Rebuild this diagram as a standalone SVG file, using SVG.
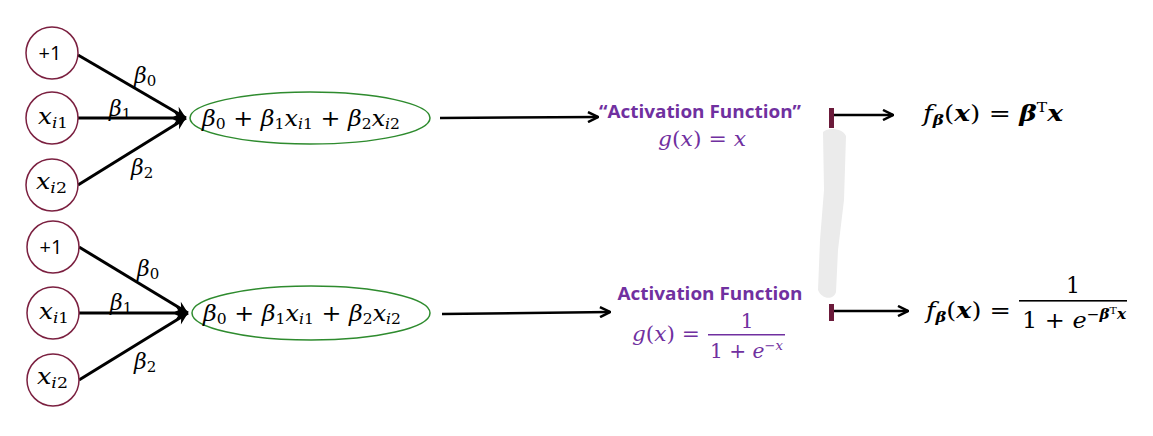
<svg xmlns="http://www.w3.org/2000/svg" width="1153" height="436" viewBox="0 0 1153 436">
<style>
.node{fill:#fff;stroke:#7b2040;stroke-width:1.5}
.ell{fill:none;stroke:#2e8b2e;stroke-width:1.5}
.edge{stroke:#000;stroke-width:3;fill:none}
.arr{stroke:#000;stroke-width:2.5;fill:none}
.m{font-family:"DejaVu Serif","Liberation Serif",serif;fill:#000}
.i{font-style:italic}
.b{font-weight:bold}
.s{font-family:"Open Sans","Liberation Sans",sans-serif}
.p{fill:#7030a0}
</style>
<defs>
<marker id="chev" viewBox="0 0 12 12" refX="11" refY="6" markerWidth="12" markerHeight="12" markerUnits="userSpaceOnUse" orient="auto">
<path d="M1,1 L11,6 L1,11" fill="none" stroke="#000" stroke-width="2.5"/>
</marker>
<marker id="big" viewBox="0 0 14 14" refX="13" refY="7" markerWidth="14" markerHeight="14" markerUnits="userSpaceOnUse" orient="auto">
<path d="M1,1 L13,7 L1,13 L5,7 Z" fill="#000"/>
</marker>
</defs>
<rect width="1153" height="436" fill="#fff"/>
<path d="M823,132 C828,127 843,128 846,136 L844,200 L838,250 L836,292 C834,300 822,300 818,290 L820,240 L824,190 Z" fill="#ebebeb"/>
<rect x="829" y="108" width="5" height="20" fill="#6b1a3a"/>
<rect x="829" y="304" width="5" height="17" fill="#6b1a3a"/>

<g id="connectors">
<line class="edge" x1="78" y1="55" x2="186" y2="118" marker-end="url(#big)"/>
<line class="edge" x1="78" y1="118" x2="186" y2="118" marker-end="url(#big)"/>
<line class="edge" x1="78" y1="185" x2="186" y2="118" marker-end="url(#big)"/>
<line class="edge" x1="79" y1="247" x2="188" y2="313" marker-end="url(#big)"/>
<line class="edge" x1="79" y1="313" x2="188" y2="313" marker-end="url(#big)"/>
<line class="edge" x1="79" y1="380" x2="188" y2="313" marker-end="url(#big)"/>
<line class="arr" x1="440" y1="118" x2="598" y2="117" marker-end="url(#chev)"/>
<line class="arr" x1="442" y1="314" x2="610" y2="312" marker-end="url(#chev)"/>
<line class="arr" x1="834" y1="115" x2="893" y2="115" marker-end="url(#chev)"/>
<line class="arr" x1="834" y1="311" x2="908" y2="311" marker-end="url(#chev)"/>
</g>

<g id="w-top" class="m i" font-size="22">
<text x="134" y="83">β<tspan font-style="normal" font-size="15" dy="3">0</tspan></text>
<text x="109" y="116">β<tspan font-style="normal" font-size="15" dy="3">1</tspan></text>
<text x="131" y="175">β<tspan font-style="normal" font-size="15" dy="3">2</tspan></text>
</g>
<g id="w-bot" class="m i" font-size="22">
<text x="137" y="276">β<tspan font-style="normal" font-size="15" dy="3">0</tspan></text>
<text x="110" y="310">β<tspan font-style="normal" font-size="15" dy="3">1</tspan></text>
<text x="134" y="369">β<tspan font-style="normal" font-size="15" dy="3">2</tspan></text>
</g>

<g id="n-top-bias"><circle class="node" cx="52" cy="53" r="26"/><text class="s" x="50" y="60" font-size="20" text-anchor="middle">+1</text></g>
<g id="n-top-x1"><circle class="node" cx="52" cy="118" r="26"/><text class="m i" x="38" y="124" font-size="22" textLength="30" lengthAdjust="spacingAndGlyphs">x<tspan font-size="15" dy="4">i</tspan><tspan font-style="normal" font-size="15">1</tspan></text></g>
<g id="n-top-x2"><circle class="node" cx="52" cy="185" r="26"/><text class="m i" x="36" y="189" font-size="22" textLength="31" lengthAdjust="spacingAndGlyphs">x<tspan font-size="15" dy="4">i</tspan><tspan font-style="normal" font-size="15">2</tspan></text></g>
<g id="n-bot-bias"><circle class="node" cx="53" cy="247" r="26"/><text class="s" x="51" y="254" font-size="20" text-anchor="middle">+1</text></g>
<g id="n-bot-x1"><circle class="node" cx="53" cy="313" r="26"/><text class="m i" x="39" y="319" font-size="22" textLength="30" lengthAdjust="spacingAndGlyphs">x<tspan font-size="15" dy="4">i</tspan><tspan font-style="normal" font-size="15">1</tspan></text></g>
<g id="n-bot-x2"><circle class="node" cx="53" cy="380" r="26"/><text class="m i" x="37" y="384" font-size="22" textLength="31" lengthAdjust="spacingAndGlyphs">x<tspan font-size="15" dy="4">i</tspan><tspan font-style="normal" font-size="15">2</tspan></text></g>

<g id="sum-top">
<ellipse class="ell" cx="310" cy="118" rx="120" ry="26"/>
<text class="m" x="202" y="126" font-size="23" textLength="198" lengthAdjust="spacingAndGlyphs"><tspan class="i">β</tspan><tspan font-size="15" dy="3">0</tspan><tspan dy="-3"> + </tspan><tspan class="i">β</tspan><tspan font-size="15" dy="3">1</tspan><tspan class="i" dy="-3">x</tspan><tspan class="i" font-size="15" dy="3">i</tspan><tspan font-size="15">1</tspan><tspan dy="-3"> + </tspan><tspan class="i">β</tspan><tspan font-size="15" dy="3">2</tspan><tspan class="i" dy="-3">x</tspan><tspan class="i" font-size="15" dy="3">i</tspan><tspan font-size="15">2</tspan></text>
</g>
<g id="sum-bot">
<ellipse class="ell" cx="311" cy="313" rx="119" ry="27"/>
<text class="m" x="203" y="321" font-size="23" textLength="198" lengthAdjust="spacingAndGlyphs"><tspan class="i">β</tspan><tspan font-size="15" dy="3">0</tspan><tspan dy="-3"> + </tspan><tspan class="i">β</tspan><tspan font-size="15" dy="3">1</tspan><tspan class="i" dy="-3">x</tspan><tspan class="i" font-size="15" dy="3">i</tspan><tspan font-size="15">1</tspan><tspan dy="-3"> + </tspan><tspan class="i">β</tspan><tspan font-size="15" dy="3">2</tspan><tspan class="i" dy="-3">x</tspan><tspan class="i" font-size="15" dy="3">i</tspan><tspan font-size="15">2</tspan></text>
</g>

<g id="act-top">
<text class="s b p" x="700" y="118" font-size="17" text-anchor="middle" textLength="202" lengthAdjust="spacingAndGlyphs">“Activation Function”</text>
<text class="m i p" x="658" y="146" font-size="20" textLength="88" lengthAdjust="spacingAndGlyphs">g<tspan font-style="normal">(</tspan>x<tspan font-style="normal">) = </tspan>x</text>
</g>
<g id="act-bot">
<text class="s b p" x="710" y="300" font-size="17" text-anchor="middle" textLength="185" lengthAdjust="spacingAndGlyphs">Activation Function</text>
<text class="m i p" x="632" y="341" font-size="20" textLength="68" lengthAdjust="spacingAndGlyphs">g<tspan font-style="normal">(</tspan>x<tspan font-style="normal">) =</tspan></text>
<text class="m p" x="747" y="328" font-size="20" text-anchor="middle">1</text>
<rect x="708" y="334" width="77" height="1.5" fill="#7030a0"/>
<text class="m p" x="710" y="358" font-size="20" textLength="73" lengthAdjust="spacingAndGlyphs">1 + <tspan class="i">e</tspan><tspan font-size="13" dy="-8">−</tspan><tspan class="i" font-size="13">x</tspan></text>
</g>

<g id="out-top">
<text class="m" x="923" y="121" font-size="22" textLength="140" lengthAdjust="spacingAndGlyphs"><tspan class="i">f</tspan><tspan class="b i" font-size="14" dy="4">β</tspan><tspan dy="-4">(</tspan><tspan class="b i">x</tspan>) = <tspan class="b i">β</tspan><tspan font-size="13" dy="-9">T</tspan><tspan class="b i" dy="9">x</tspan></text>
</g>
<g id="out-bot">
<text class="m" x="926" y="318" font-size="22" textLength="85" lengthAdjust="spacingAndGlyphs"><tspan class="i">f</tspan><tspan class="b i" font-size="14" dy="4">β</tspan><tspan dy="-4">(</tspan><tspan class="b i">x</tspan>) =</text>
<text class="m" x="1073" y="293" font-size="22" text-anchor="middle">1</text>
<rect x="1019" y="300" width="108" height="1.6" fill="#000"/>
<text class="m" x="1022" y="328" font-size="22" textLength="104" lengthAdjust="spacingAndGlyphs">1 + <tspan class="i">e</tspan><tspan font-size="14" dy="-9">−</tspan><tspan class="b i" font-size="14">β</tspan><tspan font-size="10" dy="-5">T</tspan><tspan class="b i" font-size="14" dy="5">x</tspan></text>
</g>
</svg>
